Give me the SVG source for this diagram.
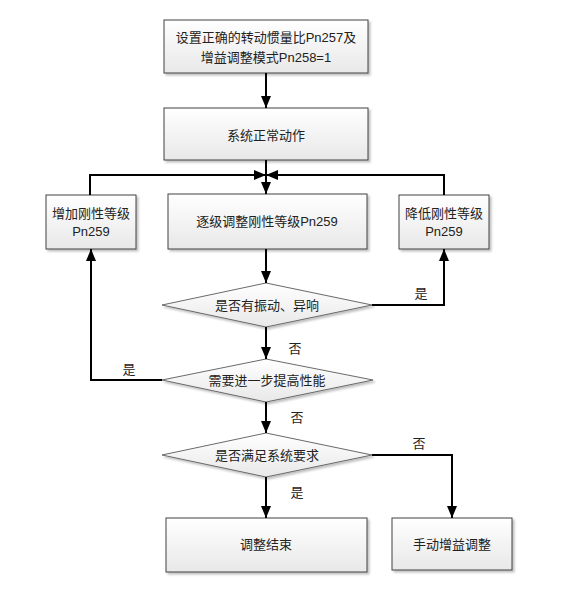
<svg xmlns="http://www.w3.org/2000/svg" width="570" height="596" viewBox="0 0 570 596">
<defs>
<linearGradient id="g" x1="0" y1="0" x2="0" y2="1">
<stop offset="0" stop-color="#ffffff"/>
<stop offset="1" stop-color="#e8e8e8"/>
</linearGradient>
<filter id="sh" x="-10%" y="-10%" width="120%" height="130%">
<feDropShadow dx="2" dy="2" stdDeviation="1" flood-color="#000" flood-opacity="0.25"/>
</filter>
<marker id="ah" markerUnits="userSpaceOnUse" markerWidth="12" markerHeight="12" viewBox="0 0 12 12" refX="12" refY="6" orient="auto">
<path d="M0,1 L12,6 L0,11 z" fill="#000"/>
</marker>
</defs>
<style>
.box{fill:url(#g);stroke:#404040;stroke-width:1;filter:url(#sh)}
.dia{fill:url(#g);stroke:#6a6a6a;stroke-width:1;filter:url(#sh)}
text{font-family:"Liberation Sans","Noto Sans CJK SC",sans-serif;font-size:13px;fill:#222;text-anchor:middle;dominant-baseline:central}
.lbl{font-size:13px}
.c{fill:none;stroke:#000;stroke-width:2}
.ca{fill:none;stroke:#000;stroke-width:2;marker-end:url(#ah)}
</style>
<rect width="570" height="596" fill="#fff"/>
<g id="n1"><rect class="box" x="164" y="20" width="204" height="53"/><text x="266" y="37">设置正确的转动惯量比Pn257及</text><text x="266" y="57">增益调整模式Pn258=1</text></g>
<g id="n2"><rect class="box" x="164" y="108" width="204" height="52"/><text x="266" y="135">系统正常动作</text></g>
<g id="n3"><rect class="box" x="46" y="195" width="90" height="54"/><text x="91" y="213">增加刚性等级</text><text x="91" y="231">Pn259</text></g>
<g id="n4"><rect class="box" x="168" y="194" width="199" height="55"/><text x="267" y="221">逐级调整刚性等级Pn259</text></g>
<g id="n5"><rect class="box" x="399" y="195" width="90" height="54"/><text x="444" y="213">降低刚性等级</text><text x="444" y="231">Pn259</text></g>
<g id="d1"><polygon class="dia" points="266,283 372,305 266,327 162,305"/><text x="267" y="305">是否有振动、异响</text></g>
<g id="d2"><polygon class="dia" points="266,359 373,380 266,402 162,380"/><text x="267" y="380">需要进一步提高性能</text></g>
<g id="d3"><polygon class="dia" points="266,433 372,455 266,477 162,455"/><text x="267" y="455">是否满足系统要求</text></g>
<g id="n6"><rect class="box" x="166" y="518" width="201" height="54"/><text x="266" y="544">调整结束</text></g>
<g id="n7"><rect class="box" x="392" y="518" width="120" height="52"/><text x="452" y="544">手动增益调整</text></g>
<g id="connectors">
<path class="ca" d="M266,73 L266,108"/>
<path class="ca" d="M266,160 L266,194"/>
<path class="ca" d="M90,195 L90,175 L266,175"/>
<path class="ca" d="M444,195 L444,175 L266,175"/>
<path class="ca" d="M266,249 L266,283"/>
<path class="ca" d="M372,305 L444,305 L444,249"/>
<path class="ca" d="M266,327 L266,359"/>
<path class="ca" d="M162,380 L91,380 L91,249"/>
<path class="ca" d="M266,402 L266,433"/>
<path class="ca" d="M266,477 L266,518"/>
<path class="ca" d="M372,455 L452,455 L452,518"/>
<text class="lbl" x="421" y="293">是</text>
<text class="lbl" x="295" y="348">否</text>
<text class="lbl" x="129" y="369">是</text>
<text class="lbl" x="297" y="417">否</text>
<text class="lbl" x="419" y="443">否</text>
<text class="lbl" x="297" y="492">是</text>
</g>
</svg>
